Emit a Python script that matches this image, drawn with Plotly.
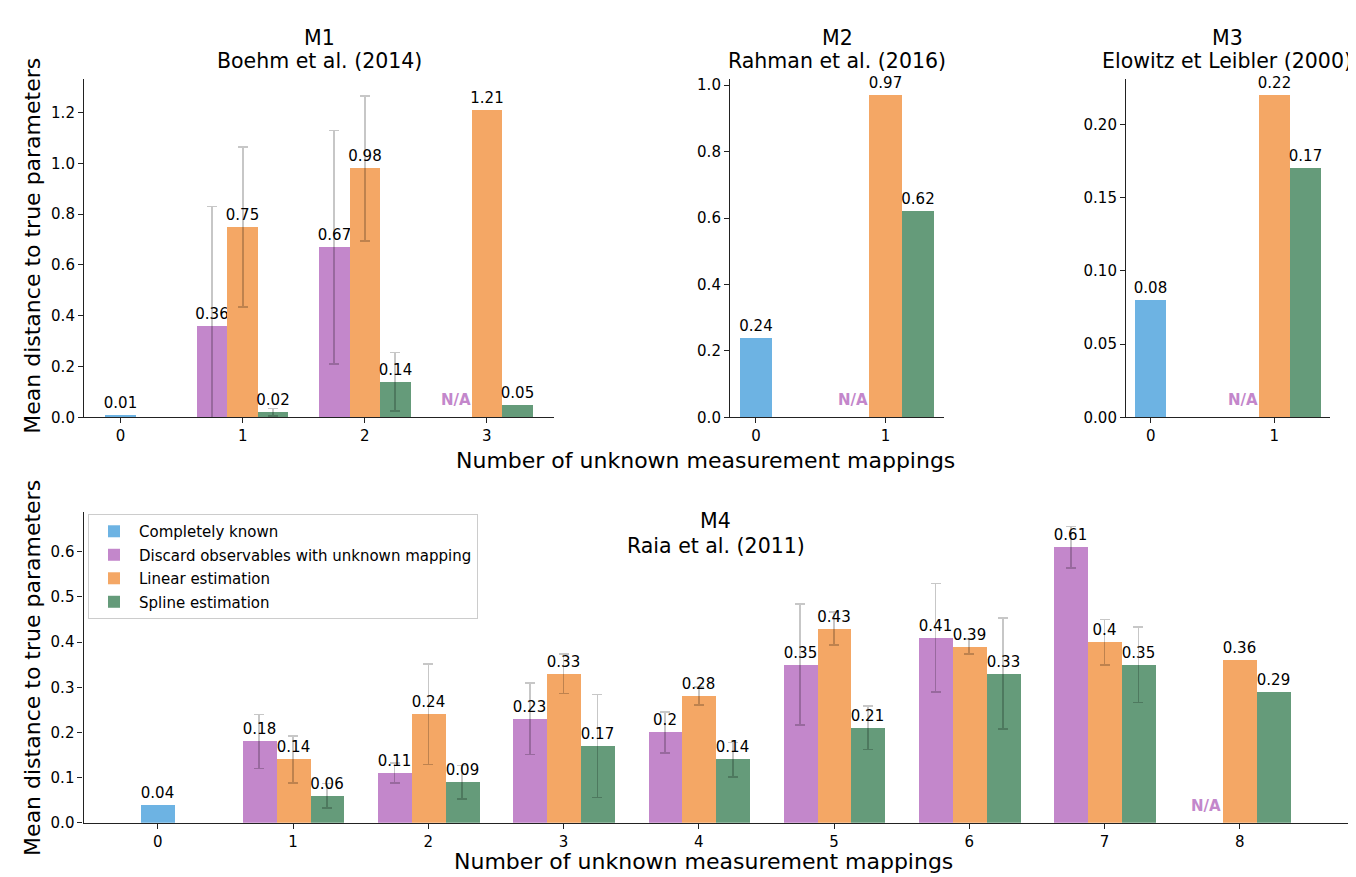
import plotly.graph_objects as go

FONT = "DejaVu Sans"
W, H = 1356, 877

# ---------------- data ----------------
SERIES = ["Completely known", "Discard observables with unknown mapping",
          "Linear estimation", "Spline estimation"]
COLORS = ["#6DB3E3", "#C387CB", "#F4A765", "#659B7A"]

# M1 - Boehm et al. (2014)
m1_cats = [0, 1, 2, 3]
m1_known = [0.01, None, None, None]
m1_discard = [None, 0.36, 0.67, None]
m1_linear = [None, 0.75, 0.98, 1.21]
m1_spline = [None, 0.02, 0.14, 0.05]
m1_discard_err = [None, 0.47, 0.46, None]
m1_linear_err = [None, 0.315, 0.285, None]
m1_spline_err = [None, 0.015, 0.115, None]

# M2 - Rahman et al. (2016)
m2_cats = [0, 1]
m2_known = [0.24, None]
m2_discard = [None, None]
m2_linear = [None, 0.97]
m2_spline = [None, 0.62]

# M3 - Elowitz et Leibler (2000)
m3_cats = [0, 1]
m3_known = [0.08, None]
m3_discard = [None, None]
m3_linear = [None, 0.22]
m3_spline = [None, 0.17]

# M4 - Raia et al. (2011)
m4_cats = [0, 1, 2, 3, 4, 5, 6, 7, 8]
m4_known = [0.04, None, None, None, None, None, None, None, None]
m4_discard = [None, 0.18, 0.11, 0.23, 0.2, 0.35, 0.41, 0.61, None]
m4_linear = [None, 0.14, 0.24, 0.33, 0.28, 0.43, 0.39, 0.4, 0.36]
m4_spline = [None, 0.06, 0.09, 0.17, 0.14, 0.21, 0.33, 0.35, 0.29]
m4_discard_err = [None, 0.06, 0.022, 0.079, 0.045, 0.134, 0.12, 0.046, None]
m4_linear_err = [None, 0.052, 0.111, 0.044, 0.02, 0.037, 0.017, 0.05, None]
m4_spline_err = [None, 0.027, 0.037, 0.114, 0.038, 0.048, 0.123, 0.084, None]

# bar geometry (in category units)
BAR_W = 0.25
OFFSETS = [-0.125, -0.375, -0.125, 0.125]   # offset of left edge from category


def px_x(x):
    return x / W


def px_y(y):
    return 1 - y / H


fig = go.Figure()


def add_series(xa, ya, cats, vals, errs, k, showlegend=False):
    xs = [c for c, v in zip(cats, vals) if v is not None]
    ys = [v for v in vals if v is not None]
    if not xs:
        return
    fig.add_trace(go.Bar(
        x=xs, y=ys, width=BAR_W, offset=OFFSETS[k],
        marker=dict(color=COLORS[k], line=dict(width=0)),
        name=SERIES[k], legendgroup=SERIES[k], showlegend=showlegend,
        text=[f"{v:g}" for v in ys], textposition="outside", textangle=0,
        constraintext="none", cliponaxis=False,
        textfont=dict(family=FONT, size=15, color="#000000"),
        xaxis=xa, yaxis=ya, hoverinfo="x+y",
    ))
    if errs is not None:
        ex = [c for c, v, e in zip(cats, vals, errs) if v is not None and e is not None]
        ey = [v for v, e in zip(vals, errs) if v is not None and e is not None]
        ee = [e for v, e in zip(vals, errs) if v is not None and e is not None]
        if ex:
            fig.add_trace(go.Bar(
                x=ex, y=ey, width=BAR_W, offset=OFFSETS[k],
                marker=dict(color="rgba(0,0,0,0)", line=dict(width=0)),
                error_y=dict(type="data", array=ee, visible=True,
                             color="rgba(0,0,0,0.22)", thickness=1.7, width=5),
                showlegend=False, hoverinfo="skip", cliponaxis=False,
                xaxis=xa, yaxis=ya,
            ))


def add_na(xa, ya, cats, vals, known):
    for c, v, kv in zip(cats, vals, known):
        if v is None and kv is None:
            fig.add_annotation(
                x=c + OFFSETS[1] + BAR_W / 2, y=0, xref=xa, yref=ya,
                text="<b>N/A</b>", showarrow=False, yanchor="bottom", yshift=6,
                font=dict(family=FONT, size=15, color="#C387CB"))


panels = [
    ("x", "y", m1_cats, [m1_known, m1_discard, m1_linear, m1_spline],
     [None, m1_discard_err, m1_linear_err, m1_spline_err], False),
    ("x2", "y2", m2_cats, [m2_known, m2_discard, m2_linear, m2_spline],
     [None, None, None, None], False),
    ("x3", "y3", m3_cats, [m3_known, m3_discard, m3_linear, m3_spline],
     [None, None, None, None], False),
    ("x4", "y4", m4_cats, [m4_known, m4_discard, m4_linear, m4_spline],
     [None, m4_discard_err, m4_linear_err, m4_spline_err], True),
]

for xa, ya, cats, series, errs, leg in panels:
    for k in range(4):
        add_series(xa, ya, cats, series[k], errs[k], k, showlegend=leg)
    add_na(xa, ya, cats, series[1], series[0])

# ---------------- axes ----------------
TOP_Y = [px_y(412), px_y(69)]
BOT_Y = [px_y(823), px_y(508)]

axis_common = dict(showline=True, linecolor="#222222", linewidth=1.1,
                   ticks="outside", ticklen=5, tickwidth=1.1, tickcolor="#222222",
                   showgrid=False, zeroline=False,
                   tickfont=dict(family=FONT, size=15, color="#000000"))

fig.update_layout(
    xaxis=dict(domain=[px_x(76), px_x(546)], range=[-0.3, 3.55], anchor="y",
               tickvals=m1_cats, **axis_common),
    yaxis=dict(domain=TOP_Y, range=[0, 1.332], anchor="x",
               tickvals=[0, 0.2, 0.4, 0.6, 0.8, 1.0, 1.2], tickformat=".1f", **axis_common),
    xaxis2=dict(domain=[px_x(722), px_x(936)], range=[-0.2, 1.45], anchor="y2",
                tickvals=m2_cats, **axis_common),
    yaxis2=dict(domain=TOP_Y, range=[0, 1.0185], anchor="x2",
                tickvals=[0, 0.2, 0.4, 0.6, 0.8, 1.0], tickformat=".1f", **axis_common),
    xaxis3=dict(domain=[px_x(1118), px_x(1322)], range=[-0.2, 1.45], anchor="y3",
                tickvals=m3_cats, **axis_common),
    yaxis3=dict(domain=TOP_Y, range=[0, 0.231], anchor="x3",
                tickvals=[0, 0.05, 0.10, 0.15, 0.20], tickformat=".2f", **axis_common),
    xaxis4=dict(domain=[px_x(75.5), px_x(1340)], range=[-0.55, 8.8], anchor="y4",
                tickvals=m4_cats, **axis_common),
    yaxis4=dict(domain=BOT_Y, range=[0, 0.688], anchor="x4",
                tickvals=[0, 0.1, 0.2, 0.3, 0.4, 0.5, 0.6], tickformat=".1f", **axis_common),
)

# ---------------- titles ----------------
TITLE_FONT = dict(family=FONT, size=20.5, color="#000000")
titles = [
    ("M1", "Boehm et al. (2014)", (76 + 546) / 2),
    ("M2", "Rahman et al. (2016)", (722 + 936) / 2),
    ("M3", "Elowitz et Leibler (2000)", (1118 + 1322) / 2 - 1),
]
for t1, t2, cx in titles:
    fig.add_annotation(x=px_x(cx), y=px_y(27), xref="paper", yref="paper",
                       text=t1, showarrow=False, yanchor="middle", xanchor="center",
                       font=TITLE_FONT)
    fig.add_annotation(x=px_x(cx), y=px_y(51), xref="paper", yref="paper",
                       text=t2, showarrow=False, yanchor="middle", xanchor="center",
                       font=TITLE_FONT)
m4_cx = (75.5 + 1340) / 2
fig.add_annotation(x=px_x(m4_cx), y=px_y(517), xref="paper", yref="paper",
                   text="M4", showarrow=False, yanchor="middle", xanchor="center",
                   font=TITLE_FONT)
fig.add_annotation(x=px_x(m4_cx), y=px_y(542), xref="paper", yref="paper",
                   text="Raia et al. (2011)", showarrow=False, yanchor="middle",
                   xanchor="center", font=TITLE_FONT)

LABEL_FONT = dict(family=FONT, size=22, color="#000000")
for cy in [238, 666]:
    fig.add_annotation(x=px_x(25), y=px_y(cy), xref="paper", yref="paper",
                       text="Mean distance to true parameters", textangle=-90,
                       showarrow=False, xanchor="center", yanchor="middle", font=LABEL_FONT)
for cx, cy in [(697, 456), (695, 862)]:
    fig.add_annotation(x=px_x(cx), y=px_y(cy), xref="paper", yref="paper",
                       text="Number of unknown measurement mappings",
                       showarrow=False, xanchor="center", yanchor="middle", font=LABEL_FONT)

fig.update_layout(
    width=W, height=H, autosize=False,
    margin=dict(l=0, r=0, t=0, b=0),
    paper_bgcolor="white", plot_bgcolor="white",
    barmode="overlay", bargap=0,
    font=dict(family=FONT, size=15, color="#000000"),
    legend=dict(x=px_x(80), y=px_y(510), xanchor="left", yanchor="top",
                bgcolor="rgba(255,255,255,0.9)", bordercolor="#cccccc", borderwidth=1,
                font=dict(family=FONT, size=15, color="#000000"),
                tracegroupgap=1, itemwidth=40),
)

fig.write_html("out.html")
